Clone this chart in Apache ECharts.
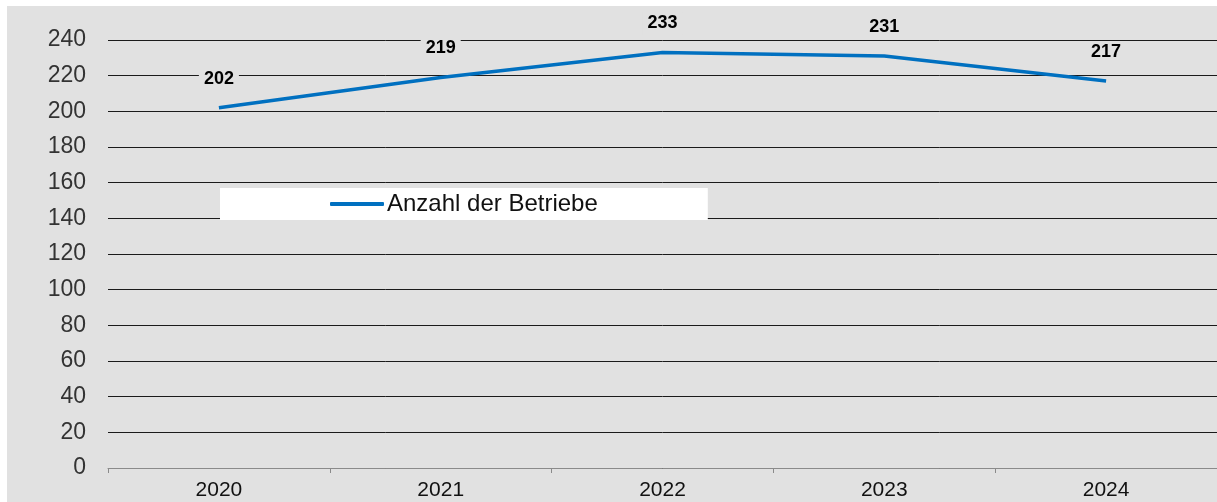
<!DOCTYPE html>
<html>
<head>
<meta charset="utf-8">
<script src="https://cdn.jsdelivr.net/npm/echarts@6/dist/echarts.min.js"></script>
<style>
	html, body { margin: 0; padding: 0; background: #ffffff; }
	#chart { position: absolute; left: 7px; top: 6px; width: 1210px; height: 496px; }
</style>
</head>
<body>
<div id="chart"></div>
<script>
	// Daten aus der Grafik
	const jahre = ['2020', '2021', '2022', '2023', '2024']
	const betriebe = [202, 219, 233, 231, 217]
	const serienName = 'Anzahl der Betriebe'

	const chart = echarts.init(document.getElementById('chart'))

	chart.setOption({
		backgroundColor: '#e1e1e1',
		animation: false,
		textStyle: { fontFamily: 'Liberation Sans, Arial, sans-serif' },
		grid: { left: 101, right: 0, top: 34, bottom: 34 },
		legend: {
			data: [serienName],
			left: 213,
			top: 182,
			backgroundColor: '#ffffff',
			padding: [4, 110, 4, 110],
			itemWidth: 54,
			itemHeight: 4,
			itemGap: 4,
			icon: 'roundRect',
			textStyle: { fontSize: 24, color: '#111111', padding: [0, 0, 0, -2] },
		},
		xAxis: {
			type: 'category',
			data: jahre,
			boundaryGap: true,
			axisLine: { lineStyle: { color: '#8a8a8a', width: 1 } },
			axisTick: { show: true, length: 5, lineStyle: { color: '#8a8a8a' } },
			axisLabel: { fontSize: 21, color: '#111111', margin: 12 },
			splitLine: { show: false },
		},
		yAxis: {
			type: 'value',
			min: 0,
			max: 240,
			interval: 20,
			axisLine: { show: false },
			axisTick: { show: false },
			axisLabel: { fontSize: 23, color: '#333333', margin: 22 },
			splitLine: { lineStyle: { color: '#1a1a1a', width: 1 } },
		},
		series: [
			{
				name: serienName,
				type: 'line',
				data: betriebe,
				showSymbol: true,
				symbol: 'circle',
				symbolSize: 0,
				lineStyle: { color: '#0070c0', width: 3.5 },
				itemStyle: { color: '#0070c0' },
				label: {
					show: true,
					position: 'top',
					distance: 18,
					fontSize: 18,
					fontWeight: 'bold',
					color: '#000000',
					backgroundColor: '#e1e1e1',
					padding: [2, 5],
				},
			},
		],
	})
</script>
</body>
</html>
